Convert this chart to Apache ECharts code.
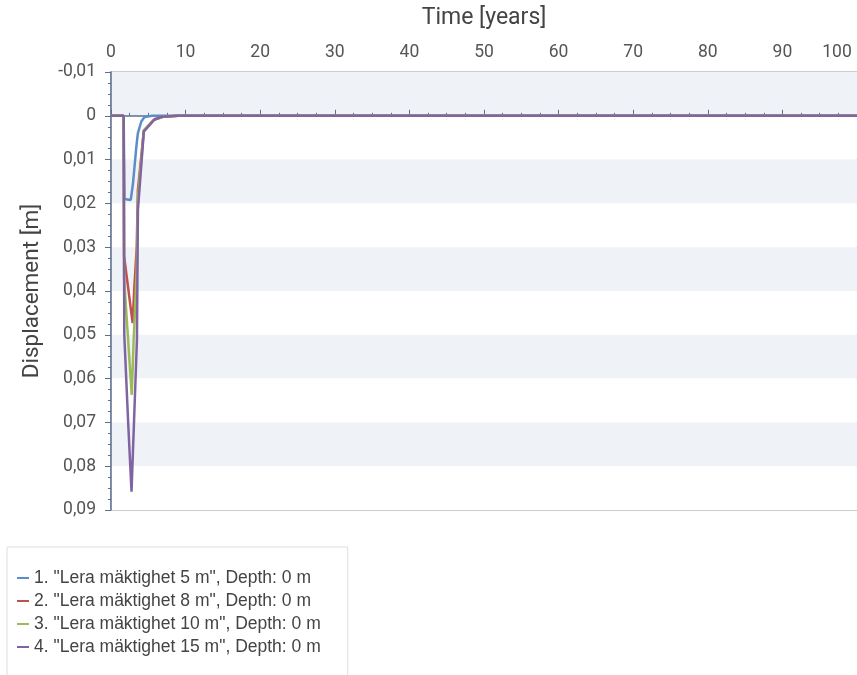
<!DOCTYPE html>
<html>
<head>
<meta charset="utf-8">
<script src="https://cdn.jsdelivr.net/npm/echarts@6/dist/echarts.min.js"></script>
<style>
html,body{margin:0;padding:0;background:#fff;}
#chart{width:857px;height:675px;}
</style>
</head>
<body>
<div id="chart"></div>
<script>
// Series names
var seriesNames = [
  '1. "Lera mäktighet 5 m", Depth: 0 m',
  '2. "Lera mäktighet 8 m", Depth: 0 m',
  '3. "Lera mäktighet 10 m", Depth: 0 m',
  '4. "Lera mäktighet 15 m", Depth: 0 m'
];
// [time (years), displacement (m)]
var lera5 = [[0,0],[1.7,0],[1.8,0.019],[2.65,0.0192],[2.95,0.0154],[3.4,0.007],[3.6,0.004],[4.06,0.0013],[4.5,0.0003],[5.5,0],[100,0]];
var lera8 = [[0,0],[1.7,0],[1.75,0.032],[2.9,0.0473],[3.1,0.04],[3.45,0.03],[3.6,0.017],[4.4,0.0033],[5.8,0.0008],[7,0.0002],[9,0],[100,0]];
var lera10 = [[0,0],[1.7,0],[1.75,0.037],[2.78,0.0637],[3.04,0.0511],[3.45,0.035],[3.6,0.019],[4.4,0.0034],[5.8,0.0009],[7,0.0002],[9,0],[100,0]];
var lera15 = [[0,0],[1.7,0],[1.78,0.05],[2.3,0.07],[2.75,0.0858],[2.82,0.0855],[3.48,0.051],[3.61,0.0215],[4.4,0.0036],[5.8,0.0009],[6.9,0.0002],[9,0],[100,0]];
var seriesData = [lera5, lera8, lera10, lera15];
var seriesColors = ['#5b8ec8', '#c0504d', '#9bbb59', '#8064a2'];
// Axes
var xMin = 0, xMax = 100, xStep = 10;
var yMin = -0.01, yMax = 0.09, yStep = 0.01;
var xTitle = 'Time [years]';
var yTitle = 'Displacement [m]';

var chart = echarts.init(document.getElementById('chart'));
var axisColor = '#5c6e91';
var labelColor = '#555';
chart.setOption({
  animation: false,
  backgroundColor: '#fff',
  grid: {
    left: 111, top: 72, width: 756, height: 438,
    show: true, borderColor: '#cccccc', borderWidth: 2, backgroundColor: 'transparent'
  },
  legend: {
    orient: 'vertical',
    left: 7, top: 547, height: 400,
    padding: [22, 27, 40, 10],
    borderColor: '#dddddd', borderWidth: 1,
    icon: 'rect', itemWidth: 12, itemHeight: 2, itemGap: 5,
    textStyle: { fontFamily: 'Liberation Sans', fontSize: 17.5, color: '#444' },
    data: seriesNames
  },
  xAxis: {
    type: 'value', position: 'top',
    min: xMin, max: xMax, interval: xStep,
    name: xTitle, nameLocation: 'middle', nameGap: 42,
    nameTextStyle: { fontFamily: 'Roboto', fontSize: 23, color: '#444' },
    axisLine: { show: true, lineStyle: { color: axisColor, width: 1.5 } },
    axisTick: { show: true, inside: false, length: 6, lineStyle: { color: axisColor } },
    minorTick: { show: true, splitNumber: 4, length: 3, lineStyle: { color: axisColor } },
    splitLine: { show: false },
    axisLabel: {
      fontFamily: 'Roboto', fontSize: 17.5, color: labelColor, margin: 10,
      formatter: function (v) { return v === 100 ? '{r|100}' : String(v); },
      rich: { r: { fontFamily: 'Roboto', fontSize: 17.5, color: labelColor, padding: [0, 40, 0, 0] } }
    }
  },
  yAxis: {
    type: 'value', inverse: true,
    min: yMin, max: yMax, interval: yStep,
    name: yTitle, nameLocation: 'middle', nameGap: 67, nameRotate: 90,
    nameTextStyle: { fontFamily: 'Roboto', fontSize: 22.5, color: '#444' },
    axisLine: { show: true, lineStyle: { color: axisColor, width: 1.5 } },
    axisTick: { show: true, inside: false, length: 6, lineStyle: { color: axisColor } },
    minorTick: { show: true, splitNumber: 4, length: 3, lineStyle: { color: axisColor } },
    splitLine: { show: false },
    splitArea: { show: true, areaStyle: { color: ['#eff2f6', '#ffffff'] } },
    axisLabel: {
      fontFamily: 'Roboto', fontSize: 17.5, color: labelColor, margin: 15,
      formatter: function (v) {
        var r = Math.round(v * 100) / 100;
        if (r === 0) return '0';
        return r.toFixed(2).replace('.', ',');
      }
    }
  },
  series: seriesNames.map(function (n, i) {
    return {
      name: n, type: 'line', data: seriesData[i],
      showSymbol: false, symbol: 'none',
      lineStyle: { color: seriesColors[i], width: 2.5 },
      itemStyle: { color: seriesColors[i] },
      clip: true
    };
  })
});
</script>
</body>
</html>
